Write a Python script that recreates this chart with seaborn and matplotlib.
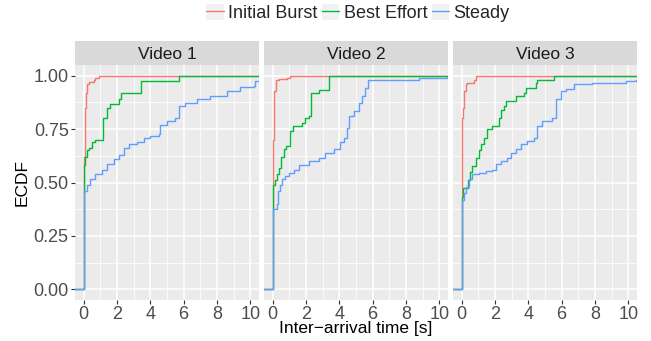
import numpy as np
import pandas as pd
import matplotlib
matplotlib.use("Agg")
import matplotlib.pyplot as plt
from matplotlib.lines import Line2D
from matplotlib.patches import Patch
from matplotlib.legend_handler import HandlerTuple
import seaborn as sns

# ---------------- data (ECDF breakpoints) ----------------
videos = ["Video 1", "Video 2", "Video 3"]
series_names = ["Initial Burst", "Best Effort", "Steady"]
colors = ["#F8766D", "#00BA38", "#619CFF"]

# Video 1
v1_burst_x = [-1, 0, 0.03, 0.06, 0.1, 0.15, 0.2, 0.3, 0.6, 0.7, 0.9, 11]
v1_burst_y = [0, 0.45, 0.62, 0.75, 0.85, 0.92, 0.96, 0.97, 0.98, 0.99, 1.0, 1.0]
v1_best_x = [-1, 0, 0.02, 0.1, 0.2, 0.3, 0.5, 0.7, 1.15, 1.4, 1.6, 2.1, 2.25, 3.45, 5.7, 11]
v1_best_y = [0, 0.47, 0.58, 0.62, 0.65, 0.66, 0.69, 0.70, 0.80, 0.85, 0.866, 0.89, 0.92, 0.975, 1.0, 1.0]
v1_steady_x = [-1, 0, 0.2, 0.4, 0.7, 1.1, 1.4, 1.8, 2.1, 2.4, 2.7, 3.2, 3.6, 4.0, 4.5, 4.6, 5.0,
               5.5, 5.7, 6.1, 6.8, 7.6, 8.6, 9.4, 10.2, 10.3, 11]
v1_steady_y = [0, 0.46, 0.49, 0.515, 0.54, 0.56, 0.585, 0.61, 0.63, 0.66, 0.68, 0.69, 0.71, 0.72,
               0.725, 0.77, 0.79, 0.80, 0.86, 0.87, 0.89, 0.905, 0.93, 0.945, 0.95, 0.975, 0.975]

# Video 2
v2_burst_x = [-1, 0, 0.02, 0.05, 0.1, 0.2, 0.4, 0.85, 1.06, 11]
v2_burst_y = [0, 0.40, 0.70, 0.88, 0.93, 0.98, 0.985, 0.99, 1.0, 1.0]
v2_best_x = [-1, 0, 0.02, 0.16, 0.26, 0.4, 0.5, 0.66, 0.8, 1.06, 1.2, 1.76, 1.96, 2.16, 2.3, 2.76, 3.4, 11]
v2_best_y = [0, 0.38, 0.49, 0.51, 0.54, 0.57, 0.62, 0.655, 0.67, 0.74, 0.765, 0.78, 0.80, 0.81, 0.92,
             0.935, 1.0, 1.0]
v2_steady_x = [-1, 0, 0.26, 0.32, 0.46, 0.56, 0.76, 0.96, 1.26, 1.56, 2.16, 2.76, 3.16, 3.66, 4.06,
               4.26, 4.46, 4.56, 4.86, 5.16, 5.36, 5.56, 5.72, 8.76, 10.46, 11]
v2_steady_y = [0, 0.374, 0.40, 0.46, 0.49, 0.515, 0.53, 0.546, 0.56, 0.58, 0.60, 0.616, 0.64, 0.655,
               0.69, 0.71, 0.757, 0.81, 0.835, 0.87, 0.905, 0.944, 0.98, 0.99, 0.995, 0.995]

# Video 3
v3_burst_x = [-1, 0, 0.02, 0.04, 0.08, 0.14, 0.24, 0.34, 0.74, 0.84, 11]
v3_burst_y = [0, 0.45, 0.70, 0.80, 0.85, 0.93, 0.96, 0.967, 0.98, 1.0, 1.0]
v3_best_x = [-1, 0, 0.08, 0.4, 0.48, 0.6, 0.84, 1.04, 1.14, 1.34, 1.54, 1.84, 2.24, 2.34, 2.54, 2.68,
             3.24, 3.74, 3.84, 4.44, 4.54, 5.54, 11]
v3_best_y = [0, 0.43, 0.476, 0.51, 0.55, 0.577, 0.616, 0.65, 0.68, 0.71, 0.75, 0.764, 0.80, 0.84,
             0.858, 0.88, 0.905, 0.92, 0.944, 0.967, 0.98, 1.0, 1.0]
v3_steady_x = [-1, 0, 0.14, 0.24, 0.44, 0.64, 1.04, 1.44, 1.84, 2.04, 2.34, 2.74, 2.94, 3.24, 3.54,
               3.94, 4.34, 4.54, 4.84, 5.44, 5.64, 5.94, 6.24, 6.74, 7.84, 9.84, 10.44, 11]
v3_steady_y = [0, 0.42, 0.45, 0.48, 0.515, 0.538, 0.546, 0.554, 0.56, 0.585, 0.60, 0.616, 0.64, 0.655,
               0.68, 0.694, 0.71, 0.764, 0.788, 0.80, 0.89, 0.93, 0.936, 0.96, 0.967, 0.975, 0.98, 0.98]

x_ticks = [0, 2, 4, 6, 8, 10]
y_ticks = [0.0, 0.25, 0.5, 0.75, 1.0]
y_ticklabels = ["0.00", "0.25", "0.50", "0.75", "1.00"]

curves = {
    "Video 1": [(v1_burst_x, v1_burst_y), (v1_best_x, v1_best_y), (v1_steady_x, v1_steady_y)],
    "Video 2": [(v2_burst_x, v2_burst_y), (v2_best_x, v2_best_y), (v2_steady_x, v2_steady_y)],
    "Video 3": [(v3_burst_x, v3_burst_y), (v3_best_x, v3_best_y), (v3_steady_x, v3_steady_y)],
}

rows = []
for vid in videos:
    for name, (xs, ys) in zip(series_names, curves[vid]):
        for xv, yv in zip(xs, ys):
            rows.append({"video": vid, "series": name, "x": xv, "y": yv})
df = pd.DataFrame(rows)

# ---------------- figure ----------------
sns.set_theme(style="white")
plt.rcParams["font.family"] = ["Liberation Sans", "DejaVu Sans"]

W, H = 651, 341
fig = plt.figure(figsize=(W / 100, H / 100), dpi=100)

panel_lefts = [75, 264, 453]
panel_w = 184
panel_top = 65
panel_bottom = 300
strip_top = 41

palette = dict(zip(series_names, colors))
for i, vid in enumerate(videos):
    l = panel_lefts[i]
    ax = fig.add_axes([l / W, 1 - panel_bottom / H, panel_w / W, (panel_bottom - panel_top) / H])
    ax.set_facecolor("#EBEBEB")
    for s in ax.spines.values():
        s.set_visible(False)
    sub = df[df["video"] == vid]
    sns.lineplot(data=sub, x="x", y="y", hue="series", hue_order=series_names, palette=palette,
                 drawstyle="steps-post", linewidth=1.0, legend=False, ax=ax, estimator=None,
                 sort=False, zorder=3)
    ax.set_xlim(-0.525, 10.525)
    ax.set_ylim(-0.05, 1.05)
    ax.set_xticks(x_ticks)
    ax.set_xticks([1, 3, 5, 7, 9], minor=True)
    ax.set_yticks(y_ticks)
    ax.set_yticks([0.125, 0.375, 0.625, 0.875], minor=True)
    ax.grid(which="major", color="white", linewidth=1.1, zorder=0)
    ax.grid(which="minor", color="white", linewidth=0.55, zorder=0)
    ax.set_axisbelow(True)
    ax.set_xticklabels([str(t) for t in x_ticks], fontsize=13, color="#4D4D4D")
    if i == 0:
        ax.set_yticklabels(y_ticklabels, fontsize=13, color="#4D4D4D")
        ax.tick_params(axis="y", which="major", length=3, width=0.8, color="#333333",
                       pad=1.5, left=True)
    else:
        ax.set_yticklabels([])
        ax.tick_params(axis="y", which="major", length=0)
    ax.tick_params(axis="x", which="major", length=3, width=0.8, color="#333333", pad=1.0, bottom=True)
    ax.tick_params(which="minor", length=0)
    ax.set_xlabel("")
    ax.set_ylabel("")

    # strip
    sax = fig.add_axes([l / W, 1 - panel_top / H, panel_w / W, (panel_top - strip_top) / H])
    sax.set_facecolor("#D9D9D9")
    sax.set_xticks([])
    sax.set_yticks([])
    for s in sax.spines.values():
        s.set_visible(False)
    sax.text(0.5, 0.45, vid, ha="center", va="center", fontsize=12.5, color="#1A1A1A",
             transform=sax.transAxes)

fig.text(356 / W, 1 - 329 / H, "Inter\u2212arrival time [s]", ha="center", va="center",
         fontsize=12.5, color="black")
fig.text(22 / W, 1 - 182 / H, "ECDF", ha="center", va="center", rotation=90,
         fontsize=12.5, color="black")

handles = [(Patch(facecolor="#F2F2F2", edgecolor="none"), Line2D([0], [0], color=c, linewidth=1.0))
           for c in colors]
leg = fig.legend(handles, series_names, loc="center", bbox_to_anchor=(358 / W, 1 - 13 / H),
                 ncol=3, frameon=False, fontsize=13, handlelength=0.95, handleheight=1.0,
                 handletextpad=0.25, columnspacing=0.25, borderpad=0.1,
                 handler_map={tuple: HandlerTuple(ndivide=1, pad=0)})

fig.savefig("out.png", dpi=100)
